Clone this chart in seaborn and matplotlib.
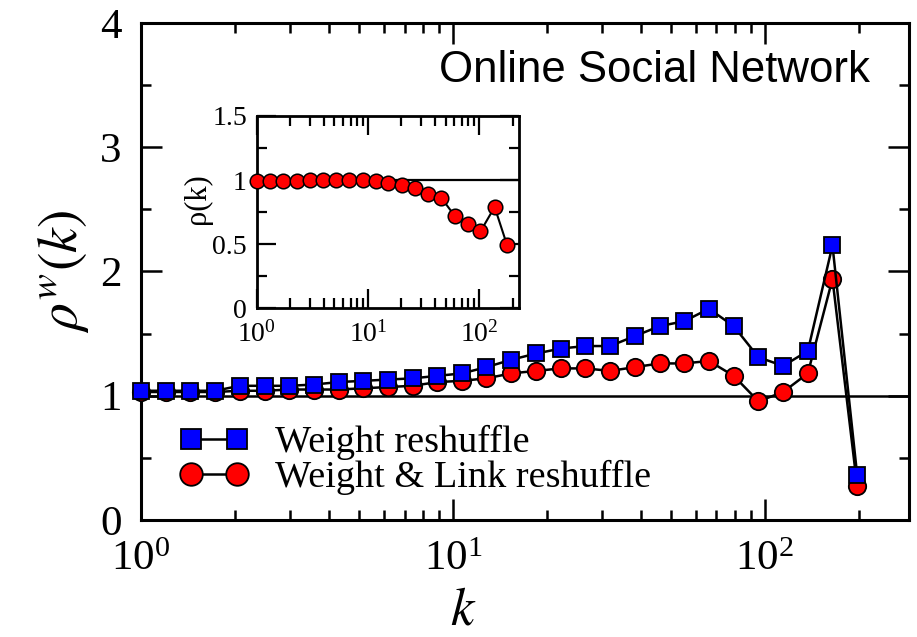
import numpy as np
import pandas as pd
import matplotlib
matplotlib.use("Agg")
import matplotlib.pyplot as plt
import seaborn as sns
from matplotlib.ticker import LogLocator, MultipleLocator, NullFormatter, FixedLocator
from matplotlib.lines import Line2D

# Degree bins (logarithmic binning) for the main panel
k_main = [1.0, 1.2, 1.44, 1.73, 2.07, 2.49, 2.99, 3.58, 4.30, 5.16,
          6.19, 7.43, 8.92, 10.7, 12.8, 15.4, 18.5, 22.2, 26.6, 31.9,
          38.3, 46.0, 55.2, 66.2, 79.5, 95.4, 114.5, 137.4, 164.8, 197.8]

# Weighted rich-club ratio, weight reshuffle null model
rho_w_weight = [1.04, 1.04, 1.04, 1.04, 1.08, 1.08, 1.08, 1.09, 1.11, 1.12,
                1.13, 1.14, 1.16, 1.18, 1.23, 1.29, 1.34, 1.38, 1.40, 1.40,
                1.48, 1.56, 1.60, 1.70, 1.56, 1.31, 1.24, 1.36, 2.21, 0.36]

# Weighted rich-club ratio, weight & link reshuffle null model
rho_w_weight_link = [1.03, 1.03, 1.03, 1.03, 1.04, 1.04, 1.05, 1.05, 1.05, 1.06,
                     1.07, 1.08, 1.11, 1.12, 1.14, 1.18, 1.20, 1.22, 1.22, 1.20,
                     1.23, 1.26, 1.26, 1.28, 1.16, 0.955, 1.03, 1.18, 1.94, 0.27]

# Unweighted rich-club ratio (inset)
k_inset = [1.0, 1.32, 1.74, 2.29, 3.01, 3.97, 5.16, 6.81, 8.95, 11.8,
           15.3, 20.2, 26.5, 34.8, 45.9, 60.5, 79.8, 103.0, 138.0, 179.0]
rho_inset = [0.99, 0.99, 0.99, 0.99, 1.0, 1.0, 1.0, 1.0, 1.0, 0.99,
             0.98, 0.96, 0.94, 0.89, 0.86, 0.72, 0.66, 0.60, 0.79, 0.49]

x_ticks_main = [1, 10, 100]
y_ticks_main = [0, 1, 2, 3, 4]
y_ticklabels_main = ["0", "1", "2", "3", "4"]
y_ticks_inset = [0, 0.5, 1, 1.5]
y_ticklabels_inset = ["0", "0.5", "1", "1.5"]

label_weight = "Weight reshuffle"
label_weight_link = "Weight & Link reshuffle"
title_text = "Online Social Network"

sns.set_theme(style="ticks", rc={"axes.edgecolor": "black", "text.color": "black",
                                 "xtick.color": "black", "ytick.color": "black",
                                 "axes.labelcolor": "black"})
plt.rcParams["font.family"] = ["Liberation Serif", "DejaVu Serif"]
plt.rcParams["mathtext.fontset"] = "stix"

fig = plt.figure(figsize=(9.17, 6.37), dpi=100)
ax = fig.add_axes([0.1538, 0.1837, 0.8375, 0.7802])

df_main = pd.DataFrame({"k": k_main, "w": rho_w_weight, "wl": rho_w_weight_link})

ax.axhline(1.0, color="black", lw=1.8, zorder=1)
sns.lineplot(data=df_main, x="k", y="wl", ax=ax, color="black", lw=1.8,
             marker="o", markersize=12.5, markerfacecolor="red",
             markeredgecolor="black", markeredgewidth=1.3, zorder=3,
             legend=False, clip_on=False)
sns.lineplot(data=df_main, x="k", y="w", ax=ax, color="black", lw=1.8,
             marker="s", markersize=11.5, markerfacecolor="blue",
             markeredgecolor="black", markeredgewidth=1.3, zorder=4,
             legend=False, clip_on=False)

ax.set_xscale("log")
ax.set_xlim(1, 290)
ax.set_ylim(0, 4)
ax.xaxis.set_major_locator(FixedLocator(x_ticks_main))
ax.xaxis.set_minor_locator(LogLocator(base=10, subs=np.arange(2, 10), numticks=20))
ax.xaxis.set_minor_formatter(NullFormatter())
ax.set_yticks(y_ticks_main)
ax.set_yticklabels(y_ticklabels_main)
ax.yaxis.set_minor_locator(MultipleLocator(0.5))
ax.tick_params(which="both", direction="in", top=True, right=True, width=1.8)
ax.tick_params(which="major", length=15, labelsize=31)
ax.tick_params(axis="x", which="major", pad=15)
ax.tick_params(axis="y", which="major", pad=14)
ax.tick_params(which="minor", length=7)
for sp in ax.spines.values():
    sp.set_linewidth(2.2)
    sp.set_color("black")

ax.set_xlabel("$k$", fontsize=38)
ax.xaxis.set_label_coords(0.42, -0.135)
ax.set_ylabel(r"$\rho^{w}(k)$", fontsize=40)
ax.yaxis.set_label_coords(-0.065, 0.5)

ax.text(0.949, 0.881, title_text, transform=ax.transAxes, ha="right",
        va="baseline", fontsize=31.5, family=["Liberation Sans", "DejaVu Sans"])

handles = [
    Line2D([], [], color="black", lw=1.8, marker="s", markersize=11.5,
           markerfacecolor="blue", markeredgecolor="black", markeredgewidth=1.3),
    Line2D([], [], color="black", lw=1.8, marker="o", markersize=12.5,
           markerfacecolor="red", markeredgecolor="black", markeredgewidth=1.3),
]
ax.legend(handles, [label_weight, label_weight_link], loc="center left",
          bbox_to_anchor=(0.05, 0.12), frameon=False, fontsize=27.5,
          numpoints=2, handlelength=1.82, handletextpad=0.68, labelspacing=0.0,
          borderpad=0, borderaxespad=0, markerscale=1.3)

# Inset: unweighted rich-club ratio
axin = fig.add_axes([0.2799, 0.516, 0.2864, 0.3019])
axin.axhline(1.0, color="black", lw=1.6, zorder=1)
sns.lineplot(x=k_inset, y=rho_inset, ax=axin, color="black", lw=1.5,
             marker="o", markersize=10.5, markerfacecolor="red",
             markeredgecolor="black", markeredgewidth=1.1, zorder=3,
             legend=False, clip_on=False)
axin.set_xscale("log")
axin.set_xlim(1, 230)
axin.set_ylim(0, 1.5)
axin.xaxis.set_major_locator(FixedLocator(x_ticks_main))
axin.xaxis.set_minor_locator(LogLocator(base=10, subs=np.arange(2, 10), numticks=20))
axin.xaxis.set_minor_formatter(NullFormatter())
axin.set_yticks(y_ticks_inset)
axin.set_yticklabels(y_ticklabels_inset)
axin.yaxis.set_minor_locator(MultipleLocator(0.25))
axin.tick_params(which="both", direction="in", top=True, right=True, width=1.6)
axin.tick_params(which="major", length=14, labelsize=20)
axin.tick_params(axis="x", which="major", pad=9)
axin.tick_params(axis="y", which="major", pad=7)
axin.tick_params(which="minor", length=7)
for sp in axin.spines.values():
    sp.set_linewidth(2.0)
    sp.set_color("black")
axin.set_ylabel("ρ(k)", fontsize=22)
axin.yaxis.set_label_coords(-0.17, 0.57)
axin.set_xlabel("")

fig.savefig("out.png", dpi=100)
